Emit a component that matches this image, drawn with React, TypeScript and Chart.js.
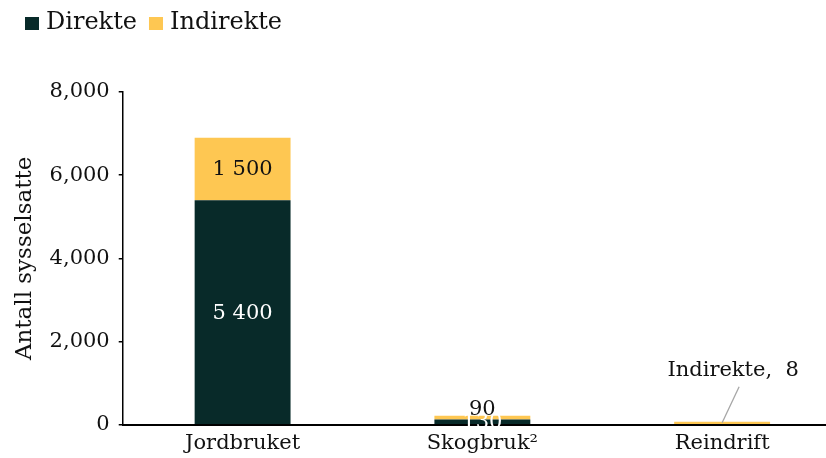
import React, { useEffect, useRef } from 'react';
import { Chart, registerables } from 'chart.js';

Chart.register(...registerables);

const categories = ['Jordbruket', 'Skogbruk²', 'Reindrift'];
const seriesNames = ['Direkte', 'Indirekte'];
const direkte = [5400, 130, 0];
const indirekte = [1500, 90, 8];
const yTicks = [0, 2000, 4000, 6000, 8000];
const yTitle = 'Antall sysselsatte';

const DARK = '#082A29';
const GOLD = '#FEC752';
const FONT = "'DejaVu Serif', Georgia, serif";

const spaced = (n: number, sep: string) => String(n).replace(/\B(?=(\d{3})+(?!\d))/g, sep);

const labelPlugin = {
  id: 'barLabels',
  afterDatasetsDraw(chart: any) {
    const ctx = chart.ctx;
    ctx.save();
    ctx.font = `21px ${FONT}`;
    ctx.textAlign = 'center';
    chart.data.datasets.forEach((ds: any, di: number) => {
      const meta = chart.getDatasetMeta(di);
      meta.data.forEach((bar: any, i: number) => {
        const v = ds.data[i];
        if (!v) return;
        const { x, y, base } = bar.getProps(['x', 'y', 'base'], true);
        const h = Math.abs(base - y);
        const text = spaced(v, ' ');
        if (di === 0) {
          ctx.fillStyle = '#ffffff';
          ctx.textBaseline = 'middle';
          ctx.fillText(text, x, (y + base) / 2 + 1);
        } else {
          const below = chart.data.datasets[0].data[i];
          ctx.fillStyle = '#111111';
          if (h >= 22) {
            ctx.textBaseline = 'middle';
            ctx.fillText(text, x, (y + base) / 2 + 1);
          } else if (below) {
            ctx.textBaseline = 'bottom';
            ctx.fillText(text, x, y + 4);
          } else {
            ctx.textBaseline = 'middle';
            ctx.fillText(`${ds.label},  ${text}`, x + 11, y - 51);
            ctx.strokeStyle = '#a6a6a6';
            ctx.lineWidth = 1.3;
            ctx.beginPath();
            ctx.moveTo(x + 17, y - 35);
            ctx.lineTo(x, y + 1);
            ctx.stroke();
          }
        }
      });
    });
    ctx.restore();
  },
};

const legendPlugin = {
  id: 'topLegend',
  afterDraw(chart: any) {
    const ctx = chart.ctx;
    ctx.save();
    ctx.font = `24px ${FONT}`;
    ctx.textBaseline = 'middle';
    ctx.textAlign = 'left';
    let x = 25;
    const cy = 23;
    chart.data.datasets.forEach((ds: any) => {
      ctx.fillStyle = ds.backgroundColor;
      ctx.fillRect(x, cy - 6, 14, 13);
      x += 21;
      ctx.fillStyle = '#111111';
      ctx.fillText(ds.label, x, cy);
      x += ctx.measureText(ds.label).width + 12;
    });
    ctx.restore();
  },
};

export default function App() {
  const ref = useRef<HTMLCanvasElement | null>(null);
  useEffect(() => {
    document.documentElement.style.overflow = 'hidden';
    document.body.style.overflow = 'hidden';
    const chart = new Chart(ref.current as HTMLCanvasElement, {
      type: 'bar',
      data: {
        labels: categories,
        datasets: [
          { label: seriesNames[0], data: direkte, backgroundColor: DARK, categoryPercentage: 1, barPercentage: 0.4 },
          { label: seriesNames[1], data: indirekte, backgroundColor: GOLD, categoryPercentage: 1, barPercentage: 0.4, minBarLength: 3 },
        ],
      },
      options: {
        animation: false,
        responsive: true,
        maintainAspectRatio: false,
        layout: { padding: { top: 92, right: 8, left: 11, bottom: -4 } },
        plugins: { legend: { display: false }, tooltip: { enabled: false } },
        scales: {
          x: {
            stacked: true,
            grid: { display: false, drawTicks: false },
            border: { display: true, color: '#000000', width: 2 },
            ticks: { color: '#111111', font: { family: FONT, size: 21 }, padding: 6, maxRotation: 0 },
          },
          y: {
            stacked: true,
            min: 0,
            max: 8000,
            afterBuildTicks: (axis: any) => {
              axis.ticks = yTicks.map((v) => ({ value: v }));
            },
            grid: { display: true, drawOnChartArea: false, drawTicks: true, tickLength: 4, color: '#000000', lineWidth: 1.5 },
            border: { display: true, color: '#000000', width: 1.5 },
            ticks: {
              color: '#111111',
              font: { family: FONT, size: 21 },
              padding: 9,
              callback: (v: any) => spaced(Number(v), ','),
            },
            title: { display: true, text: yTitle, color: '#111111', font: { family: FONT, size: 23 }, padding: { top: 0, bottom: 2 } },
          },
        },
      },
      plugins: [labelPlugin, legendPlugin],
    });
    return () => chart.destroy();
  }, []);
  return (
    <div style={{ position: 'absolute', left: 0, top: 0, width: 850, height: 458 }}>
      <canvas ref={ref} />
    </div>
  );
}
